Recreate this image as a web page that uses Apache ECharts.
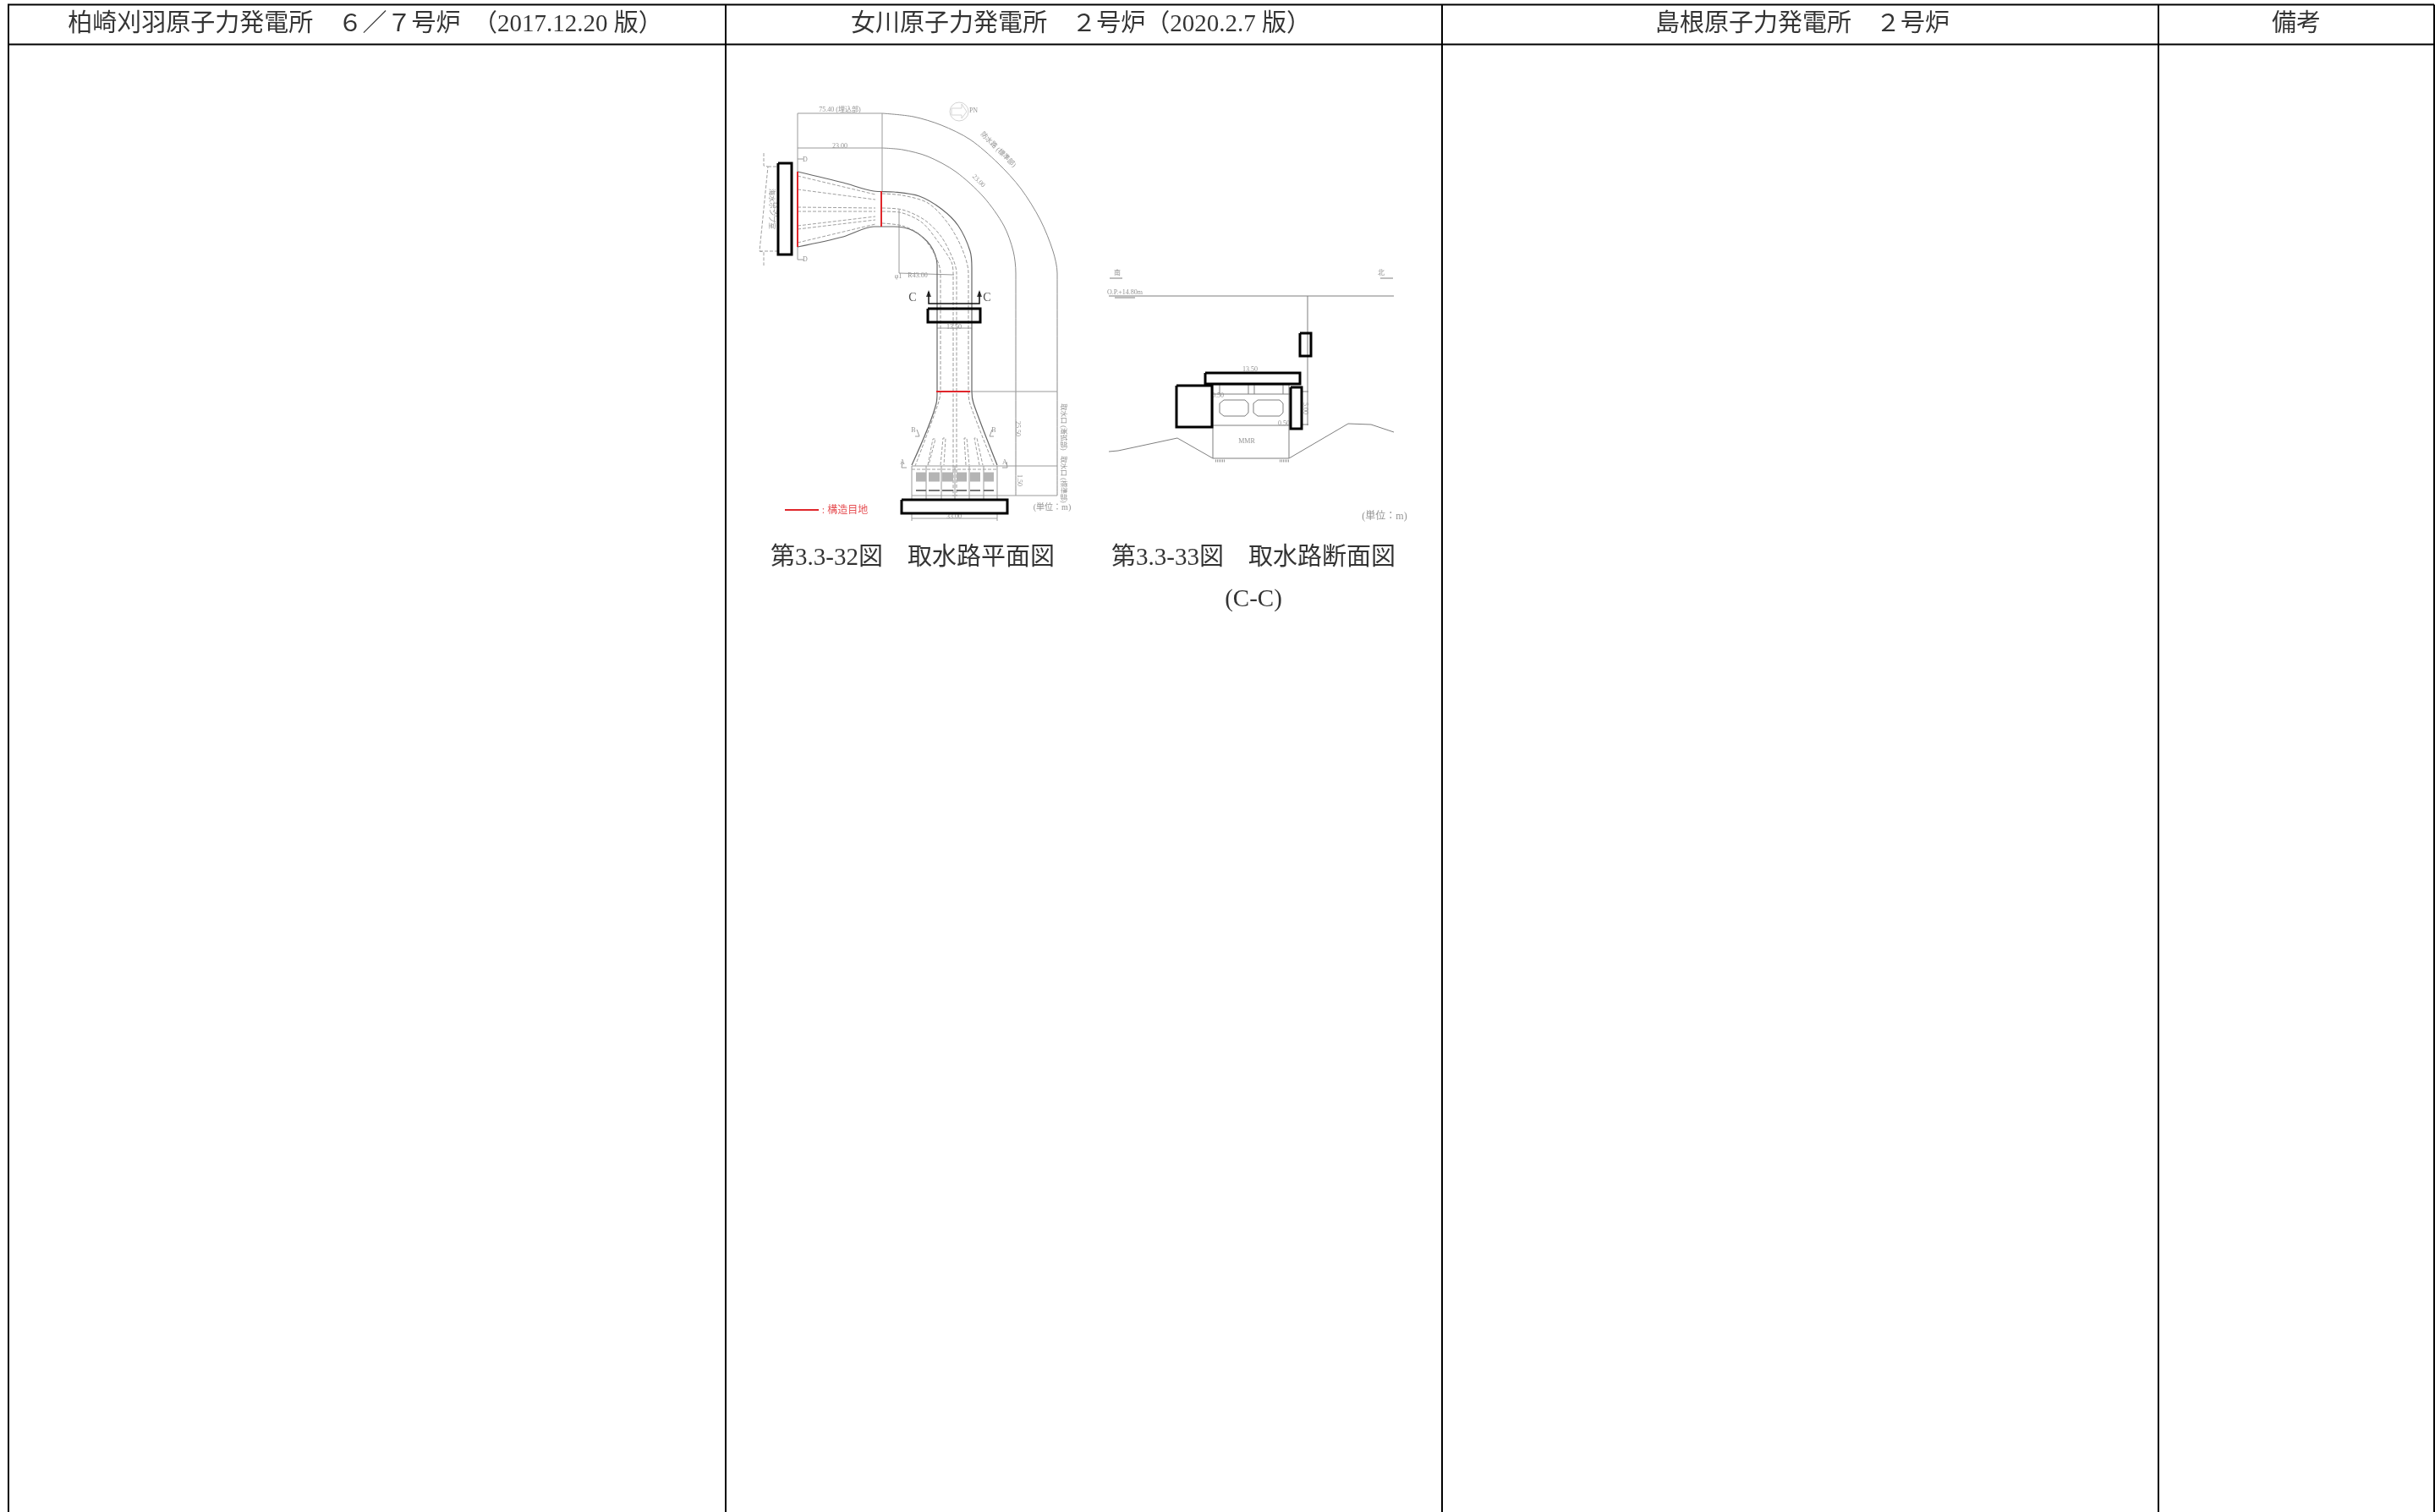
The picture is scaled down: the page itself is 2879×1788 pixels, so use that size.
<!DOCTYPE html>
<html>
<head>
<meta charset="utf-8">
<style>html,body{margin:0;padding:0;background:#fff}#main{width:2879px;height:1788px}</style>
<script src="https://cdn.jsdelivr.net/npm/echarts@6/dist/echarts.min.js"></script>
</head>
<body>
<div id="main"></div>
<script>
// 表のヘッダと罫線
var columnNames = ['柏崎刈羽原子力発電所　６／７号炉　（2017.12.20 版）', '女川原子力発電所　２号炉（2020.2.7 版）', '島根原子力発電所　２号炉', '備考'];
var columnCenters = [432, 1278, 2131, 2715];
var columnEdges = [10, 858, 1705, 2552, 2878];
var rowEdges = [5.5, 52.5];
var tableBottom = 1788;

// 図のキャプション
var captions = [[1079, 660, '第3.3-32図　取水路平面図'], [1482, 660, '第3.3-33図　取水路断面図'], [1482, 709, '(C-C)']];

// 取水路平面図: 外形(曲線)
var planContours = [
    [[943, 203], [997, 216], [1033, 226], [1057, 227], [1087, 232], [1113, 247], [1133, 267], [1147, 297], [1149, 317], [1149, 463], [1151, 477], [1179, 550]],
    [[943, 292], [997, 280], [1033, 268], [1057, 268], [1080, 273], [1100, 290], [1108, 313], [1108, 463], [1107, 477], [1078, 550]]
];
// 取水路平面図: 内側の破線
var planHidden = [
    [[1043, 229], [1067, 231], [1097, 240], [1120, 263], [1137, 293], [1145, 323], [1145, 463], [1147, 478], [1175, 550]],
    [[1043, 246], [1067, 248], [1093, 260], [1113, 280], [1127, 307], [1131, 323], [1131, 587]],
    [[1043, 250], [1063, 251], [1090, 263], [1110, 287], [1125, 310], [1127, 323], [1127, 587]],
    [[1043, 264], [1067, 267], [1087, 277], [1103, 297], [1112, 323], [1112, 463], [1109, 478], [1082, 551]]
];
var planHiddenStraight = [
    [[943, 208], [1035, 230]], [[943, 224], [1035, 236]], [[943, 245], [1035, 246]], [[943, 250], [1035, 250]],
    [[943, 267], [1035, 256]], [[943, 271], [1035, 260]], [[943, 287], [1035, 265]],
    [[1097, 550], [1103, 519], [1106, 519], [1098, 550]], [[1112, 550], [1115, 518], [1118, 518], [1116, 550]],
    [[1142, 550], [1140, 518], [1143, 518], [1146, 550]], [[1158, 550], [1152, 518], [1155, 518], [1162, 550]],
    [[1078, 555], [1179, 555]],
    [[903, 181], [903, 196], [908, 197], [898, 297], [903, 298], [903, 314]],
    [[908, 197], [920, 197]], [[898, 297], [920, 297]]
];
// 取水路平面図: 寸法線
var planArcs = [
    [[1043, 134], [1080, 138], [1113, 148], [1147, 165], [1180, 193], [1207, 223], [1230, 260], [1245, 297], [1250, 323], [1250, 586]],
    [[1043, 175], [1067, 177], [1097, 185], [1130, 203], [1163, 233], [1187, 267], [1198, 297], [1201, 323], [1201, 586]]
];
var planThin = [
    [[943, 134], [1043, 134]], [[943, 175], [1043, 175]], [[1043, 134], [1043, 227]], [[943, 134], [943, 203]], [[943, 292], [943, 307]],
    [[943, 188], [950, 188]], [[943, 307], [950, 307]],
    [[1063, 248], [1063, 323], [1128, 325]], [[1108, 388], [1149, 388]],
    [[1147, 463], [1250, 463]], [[1078, 551], [1250, 551]], [[1078, 586], [1250, 586]], [[1078, 613], [1179, 613]],
    [[1078, 551], [1078, 590]], [[1095, 551], [1095, 590]], [[1113, 551], [1113, 590]], [[1129, 551], [1129, 590]],
    [[1146, 551], [1146, 590]], [[1163, 551], [1163, 590]], [[1179, 551], [1179, 590]],
    [[1078, 606], [1078, 616]], [[1179, 606], [1179, 616]],
    [[1082, 516], [1087, 516], [1084, 508]], [[1175, 516], [1170, 516], [1173, 508]],
    [[1072, 553], [1066, 553], [1067, 546]], [[1185, 553], [1191, 553], [1190, 546]]
];
var planScreens = [[[1083, 564], [1095, 564]], [[1098, 564], [1111, 564]], [[1114, 564], [1127, 564]], [[1131, 564], [1143, 564]], [[1147, 564], [1159, 564]], [[1163, 564], [1175, 564]]];
var planBars = [[[1083, 580], [1095, 580]], [[1098, 580], [1111, 580]], [[1114, 580], [1127, 580]], [[1131, 580], [1143, 580]], [[1147, 580], [1159, 580]], [[1163, 580], [1175, 580]]];
var planJoints = [[[943, 203], [943, 292]], [[1042, 226], [1042, 268]], [[1107, 463], [1147, 463]]];
var legendJoint = [[[928, 603], [968, 603]]];
var sectionMark = [[[1098, 345], [1098, 359], [1158, 359], [1158, 345]]];
var sectionArrows = [[1098, 347], [1158, 347]];
var northCircle = [[1134, 132]];
var northArrow = [[[1125, 128], [1137, 128], [1137, 123], [1143, 132], [1137, 140], [1137, 136], [1125, 136], [1125, 128]]];

// 取水路断面図
var sectionThin = [
    [[1311, 350], [1648, 350]], [[1546, 350], [1546, 503]],
    [[1433, 455], [1525, 455]], [[1433, 466], [1525, 466]], [[1433, 503], [1525, 503]], [[1434, 542], [1524, 542]],
    [[1434, 455], [1434, 542]], [[1524, 455], [1524, 542]],
    [[1442, 455], [1442, 466]], [[1476, 455], [1476, 466]], [[1483, 455], [1483, 466]], [[1517, 455], [1517, 466]],
    [[1447, 473], [1472, 473], [1476, 477], [1476, 488], [1472, 492], [1447, 492], [1442, 488], [1442, 477], [1447, 473]],
    [[1487, 473], [1513, 473], [1517, 477], [1517, 488], [1513, 492], [1487, 492], [1482, 488], [1482, 477], [1487, 473]],
    [[1311, 534], [1322, 533], [1392, 518], [1434, 542]], [[1524, 542], [1594, 501], [1621, 502], [1648, 511]],
    [[1538, 463], [1547, 463]], [[1538, 502], [1547, 502]],
    [[1312, 329], [1327, 329]], [[1632, 329], [1647, 329]], [[1318, 352], [1342, 352]]
];
var sectionRock = [[[1437, 545], [1448, 545]], [[1513, 545], [1524, 545]]];

// 黒枠(マスキング)
var maskBoxes = [
    [[920, 193], [936, 193], [936, 301], [920, 301], [920, 193]],
    [[1097, 365], [1159, 365], [1159, 381], [1097, 381], [1097, 365]],
    [[1066, 591], [1191, 591], [1191, 607], [1066, 607], [1066, 591]],
    [[1537, 394], [1550, 394], [1550, 421], [1537, 421], [1537, 394]],
    [[1425, 441], [1537, 441], [1537, 454], [1425, 454], [1425, 441]],
    [[1391, 456], [1433, 456], [1433, 505], [1391, 505], [1391, 456]],
    [[1526, 458], [1539, 458], [1539, 507], [1526, 507], [1526, 458]]
];

// 図中の小さい文字
var planLabels = [
    [993, 130, '75.40 (埋込部)', 0], [993, 173, '23.00', 0], [1180, 177, '防水路 (標準部)', -45], [1157, 214, '23.00', -45],
    [912, 247, '海水ポンプ室', -90], [917, 247, '13.50', -90], [1085, 326, 'R43.00', 0], [1062, 327, 'φ1', 0],
    [1128, 387, '13.50', 0], [1203, 507, '25.50', -90], [1205, 568, '1.50', -90],
    [1257, 505, '取水口 (漸拡部)', -90], [1257, 567, '取水口 (標準部)', -90],
    [1080, 509, 'B', 0], [1175, 509, 'B', 0], [1067, 547, 'A', 0], [1188, 547, 'A', 0], [1128, 611, '33.00', 0],
    [952, 189, 'D', 0], [952, 307, 'D', 0], [1151, 131, 'PN', 0],
    [1321, 323, '南', 0], [1633, 323, '北', 0], [1330, 346, 'O.P.+14.80m', 0], [1474, 522, 'MMR', 0],
    [1478, 437, '13.50', 0], [1440, 468, '0.50', 0], [1518, 501, '0.50', 0], [1543, 483, '5.00', -90]
];
var unitLabelsPlan = [[1244, 600, '(単位：m)']];
var unitLabelsSection = [[1637, 611, '(単位：m)']];
var sectionLetters = [[1079, 352, 'C'], [1167, 352, 'C']];
var legendText = [[999, 604, ': 構造目地']];

var FONT = '"Liberation Serif", "Noto Sans CJK JP"';

/**
 * @desc 折れ線のまとまりを line シリーズにする(途中は null で切る)
 */
function pathSeries(name, paths, color, width, type, smooth) {
    var data = [];
    for (var i = 0; i < paths.length; i++) {
        data = data.concat(paths[i]);
        data.push([null, null]);
    }
    return {
        name: name,
        type: 'line',
        data: data,
        symbol: 'none',
        smooth: smooth ? 0.3 : false,
        connectNulls: false,
        silent: true,
        lineStyle: { color: color, width: width, type: type || 'solid', join: 'miter' }
    };
}

/**
 * @desc 文字だけの scatter シリーズ
 */
function textSeries(name, rows, size, color) {
    var data = [];
    for (var i = 0; i < rows.length; i++) {
        data.push({
            value: [rows[i][0], rows[i][1]],
            label: { formatter: rows[i][2], rotate: rows[i][3] || 0 }
        });
    }
    return {
        name: name,
        type: 'scatter',
        data: data,
        symbolSize: 0,
        silent: true,
        label: {
            show: true,
            position: 'inside',
            align: 'center',
            verticalAlign: 'middle',
            fontFamily: FONT,
            fontSize: size,
            color: color
        }
    };
}

// 表の罫線
var tableLines = [];
for (var i = 0; i < columnEdges.length; i++) {
    tableLines.push([[columnEdges[i], rowEdges[0]], [columnEdges[i], tableBottom]]);
}
for (var j = 0; j < rowEdges.length; j++) {
    tableLines.push([[columnEdges[0] - 1, rowEdges[j]], [columnEdges[columnEdges.length - 1], rowEdges[j]]]);
}

var headerRows = [];
for (var k = 0; k < columnNames.length; k++) {
    headerRows.push([columnCenters[k], 29, columnNames[k]]);
}

var series = [
    pathSeries('arcs', planArcs, '#8a8a8a', 1, 'solid', true),
    pathSeries('thin', planThin, '#9a9a9a', 1),
    pathSeries('contour', planContours, '#666666', 1.2, 'solid', true),
    pathSeries('hidden', planHidden, '#999999', 1, [4, 2], true),
    pathSeries('hiddenStraight', planHiddenStraight, '#a0a0a0', 1, [4, 2]),
    pathSeries('screens', planScreens, '#b4b4b4', 11),
    pathSeries('bars', planBars, '#777777', 2),
    pathSeries('section', sectionThin, '#7f7f7f', 1),
    pathSeries('rock', sectionRock, '#999999', 3, [1, 1]),
    pathSeries('north', northArrow, '#d5d5d5', 1),
    {
        name: 'northCircle',
        type: 'scatter',
        data: northCircle,
        symbol: 'circle',
        symbolSize: 22,
        silent: true,
        itemStyle: { color: 'transparent', borderColor: '#c8c8c8', borderWidth: 1 }
    },
    pathSeries('joints', planJoints, '#e0262b', 2),
    pathSeries('legend', legendJoint, '#e0262b', 2),
    pathSeries('mark', sectionMark, '#111111', 1.5),
    {
        name: 'arrows',
        type: 'scatter',
        data: sectionArrows,
        symbol: 'triangle',
        symbolSize: [6, 8],
        silent: true,
        itemStyle: { color: '#111111' }
    },
    pathSeries('masks', maskBoxes, '#000000', 3),
    pathSeries('table', tableLines, '#000000', 2),
    textSeries('header', headerRows, 29, '#000000'),
    textSeries('captions', captions, 29, '#000000'),
    textSeries('planLabels', planLabels, 8, '#777777'),
    textSeries('unitsPlan', unitLabelsPlan, 10, '#777777'),
    textSeries('unitsSection', unitLabelsSection, 12, '#777777'),
    textSeries('letters', sectionLetters, 14, '#222222'),
    textSeries('legendText', legendText, 12, '#e0262b')
];

var myChart = echarts.init(document.getElementById('main'), null, { renderer: 'canvas' });
myChart.setOption({
    animation: false,
    backgroundColor: '#ffffff',
    grid: { left: 0, right: 0, top: 0, bottom: 0 },
    xAxis: { type: 'value', min: 0, max: 2879, show: false },
    yAxis: { type: 'value', min: 0, max: 1788, inverse: true, show: false },
    series: series
});
</script>
</body>
</html>
